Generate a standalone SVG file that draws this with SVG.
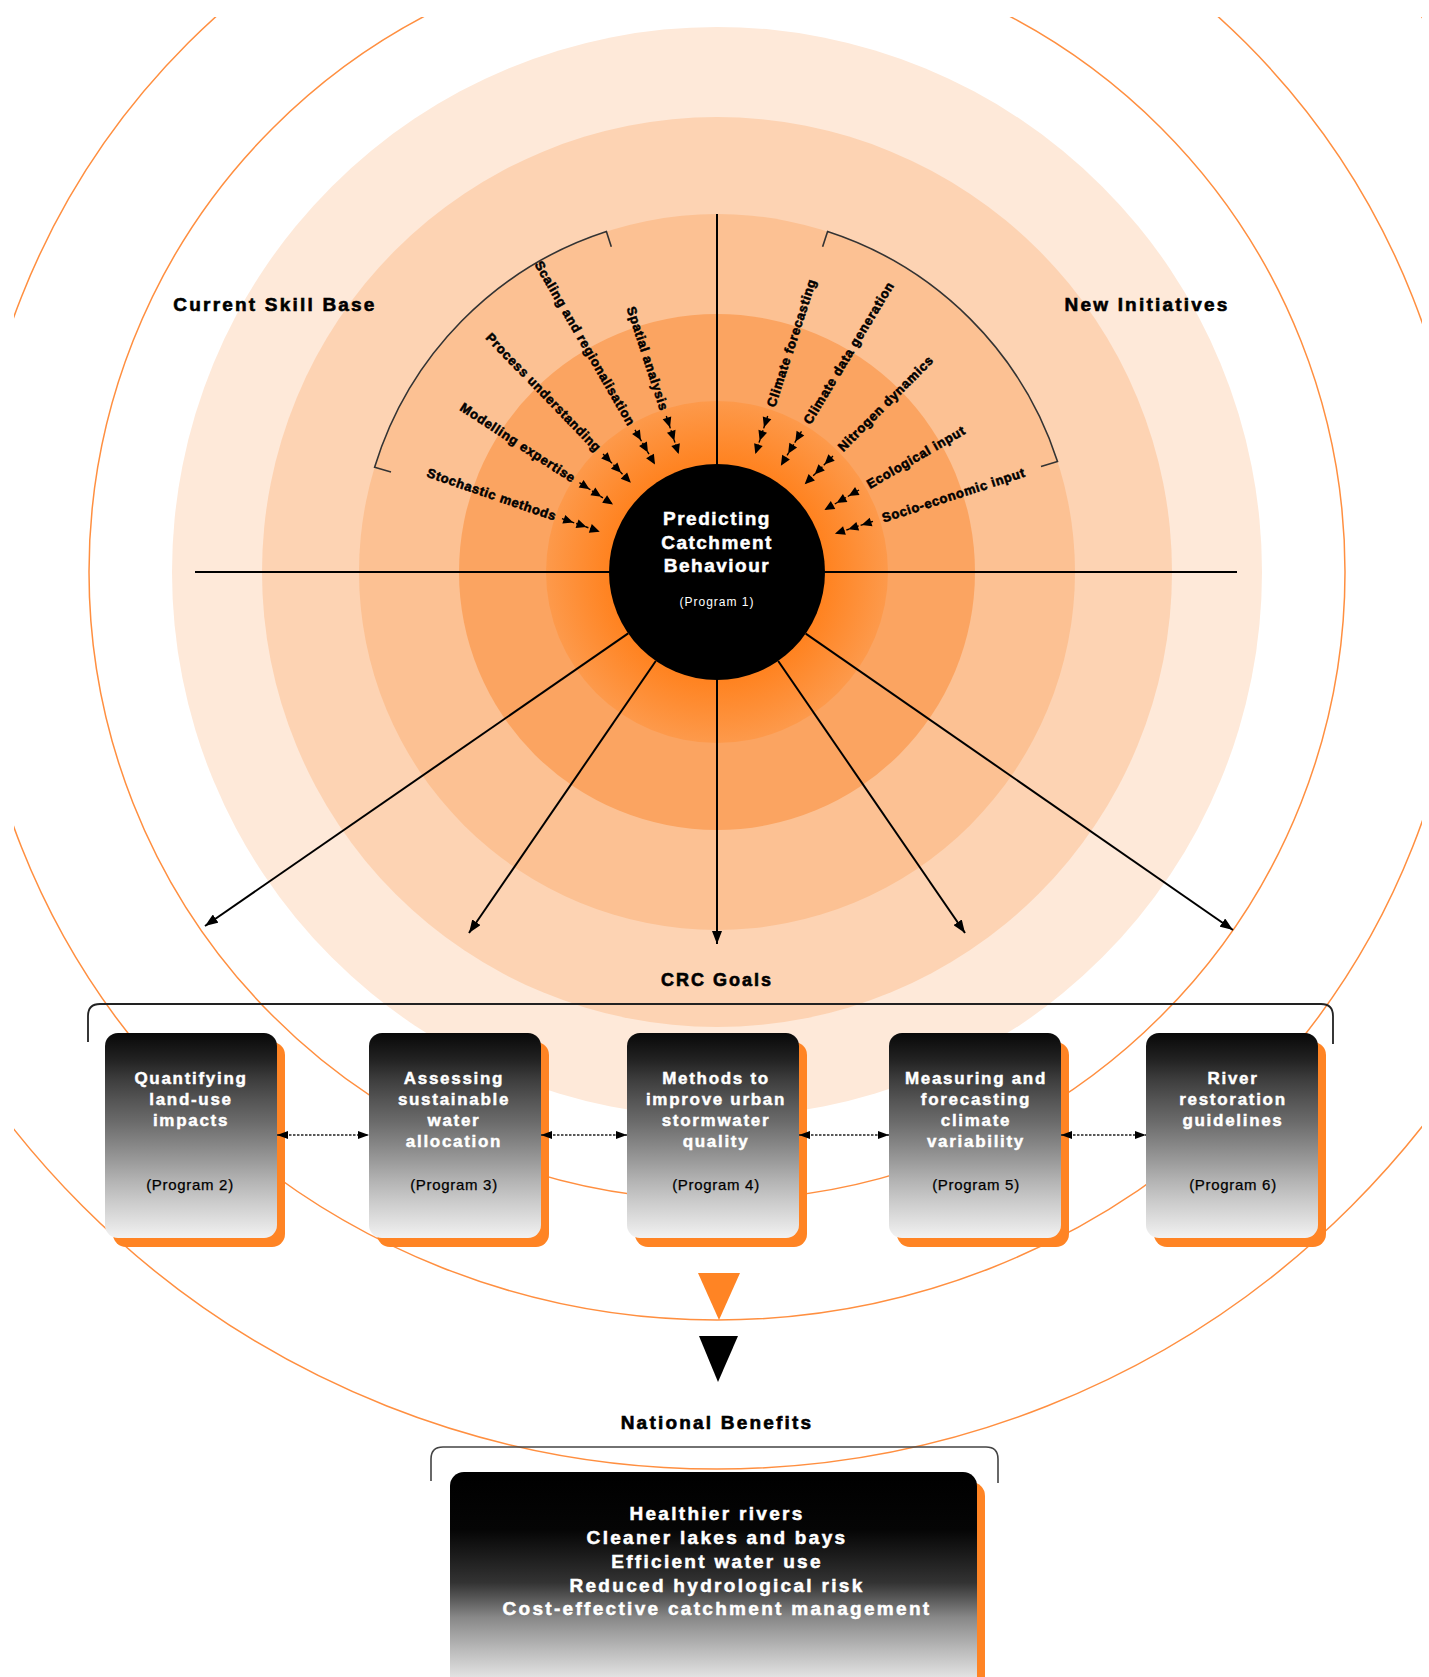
<svg xmlns="http://www.w3.org/2000/svg" width="1429" height="1677" viewBox="0 0 1429 1677">
  <style>
    text { font-family: "Liberation Sans", Arial, Helvetica, sans-serif; }
    .head { font-size: 19px; font-weight: bold; letter-spacing: 2.2px; fill: #000; stroke: #000; stroke-width: 0.6; text-anchor: middle; }
    .spoke-lbl { font-size: 13px; font-weight: bold; letter-spacing: 0.7px; fill: #000; stroke: #000; stroke-width: 0.55; }
    .core-t { font-size: 19px; font-weight: bold; letter-spacing: 1.5px; fill: #fff; stroke: #fff; stroke-width: 0.5; text-anchor: middle; }
    .core-p { font-size: 12px; letter-spacing: 1px; fill: #fff; text-anchor: middle; }
    .box-t { font-size: 17px; font-weight: bold; letter-spacing: 1.7px; fill: #fff; stroke: #fff; stroke-width: 0.45; text-anchor: middle; }
    .box-p { font-size: 15px; letter-spacing: 0.7px; fill: #000; stroke: #000; stroke-width: 0.25; text-anchor: middle; }
    .ben-t { font-size: 19px; font-weight: bold; letter-spacing: 2.3px; fill: #fff; stroke: #fff; stroke-width: 0.5; text-anchor: middle; }
    .orbit { fill: none; stroke: #ff8f40; stroke-width: 1.5; }
    .axis { stroke: #000; stroke-width: 2; }
    .bracket { fill: none; stroke: #222; stroke-width: 1.8; }
    .sector { fill: none; stroke: #333; stroke-width: 1.6; }
    .tri { fill: #000; }
    .spoke-line { stroke: #000; stroke-width: 1.4; stroke-dasharray: 3 2; }
    .out { stroke: #000; stroke-width: 2; fill: none; marker-end: url(#head); }
    .link { stroke: #222; stroke-width: 1.6; stroke-dasharray: 2.5 1.5; fill: none; marker-start: url(#small); marker-end: url(#small); }
    .card { fill: url(#cardFill); }
    .shadow { fill: #ff8424; }
  </style>
  <defs>
    <radialGradient id="coreRing" cx="717" cy="572" r="172" gradientUnits="userSpaceOnUse">
      <stop offset="0.62" stop-color="#ff821f"/>
      <stop offset="1" stop-color="#fd9a4c"/>
    </radialGradient>
    <linearGradient id="cardFill" x1="0" y1="0" x2="0" y2="1">
      <stop offset="0" stop-color="#080808"/>
      <stop offset="0.13" stop-color="#222"/>
      <stop offset="0.23" stop-color="#3e3e3e"/>
      <stop offset="0.33" stop-color="#555"/>
      <stop offset="0.43" stop-color="#6a6a6a"/>
      <stop offset="0.52" stop-color="#808080"/>
      <stop offset="0.62" stop-color="#999"/>
      <stop offset="0.72" stop-color="#b3b3b3"/>
      <stop offset="0.81" stop-color="#c8c8c8"/>
      <stop offset="0.91" stop-color="#dedede"/>
      <stop offset="1" stop-color="#f2f2f2"/>
    </linearGradient>
    <linearGradient id="benefitFill" x1="0" y1="1472" x2="0" y2="1677" gradientUnits="userSpaceOnUse">
      <stop offset="0" stop-color="#000"/>
      <stop offset="0.28" stop-color="#050505"/>
      <stop offset="0.54" stop-color="#333"/>
      <stop offset="0.61" stop-color="#555"/>
      <stop offset="0.71" stop-color="#888"/>
      <stop offset="0.87" stop-color="#bbb"/>
      <stop offset="1" stop-color="#e2e2e2"/>
    </linearGradient>
    <clipPath id="frame">
      <rect x="14" y="17" width="1408" height="1660"/>
    </clipPath>
    <marker id="head" markerUnits="userSpaceOnUse" markerWidth="14" markerHeight="10" refX="13" refY="5" orient="auto">
      <path d="M0 0 L13 5 L0 10 Z" fill="#000"/>
    </marker>
    <marker id="small" markerUnits="userSpaceOnUse" markerWidth="12" markerHeight="8" refX="11" refY="4" orient="auto-start-reverse">
      <path d="M0 0 L11 4 L0 8 Z" fill="#000"/>
    </marker>
  </defs>

  <rect width="1429" height="1677" fill="#fff"/>

  <!-- concentric bands around the core -->
  <g id="bands">
    <circle cx="717" cy="572" r="545" fill="#fee9d9"/>
    <circle cx="717" cy="572" r="455" fill="#fdd3b3"/>
    <circle cx="717" cy="572" r="358" fill="#fcc193"/>
    <circle cx="717" cy="572" r="258" fill="#fba461"/>
    <circle cx="717" cy="572" r="171" fill="url(#coreRing)"/>
  </g>

  <!-- outer orbit outlines -->
  <g id="orbits" clip-path="url(#frame)">
    <circle class="orbit" cx="717" cy="572" r="628"/>
    <circle class="orbit" cx="717" cy="572" r="748"/>
    <circle class="orbit" cx="717" cy="572" r="897"/>
  </g>

  <!-- cross axes -->
  <g id="axes">
    <line class="axis" x1="195" y1="572" x2="1237" y2="572"/>
    <line class="axis" x1="717" y1="214" x2="717" y2="572"/>
  </g>

  <!-- Current Skill Base sector -->
  <g id="skill-base">
    <path class="sector" d="M611.3 246.7 L606.4 231.5 A358 358 0 0 0 374.6 467.3 L391 472"/>
    <text class="head" x="275" y="311">Current Skill Base</text>
    <g transform="translate(717 572) rotate(-161)">
      <text class="spoke-lbl" transform="rotate(180)" x="-170" y="4.5" text-anchor="end">Stochastic methods</text>
      <line class="spoke-line" x1="126" y1="0" x2="164" y2="0"/>
      <path class="tri" d="M124 0 L134 -4.5 L134 4.5Z M138 0 L148 -4.5 L148 4.5Z M152 0 L162 -4.5 L162 4.5Z"/>
    </g>
    <g transform="translate(717 572) rotate(-147)">
      <text class="spoke-lbl" transform="rotate(180)" x="-170" y="4.5" text-anchor="end">Modelling expertise</text>
      <line class="spoke-line" x1="126" y1="0" x2="164" y2="0"/>
      <path class="tri" d="M124 0 L134 -4.5 L134 4.5Z M138 0 L148 -4.5 L148 4.5Z M152 0 L162 -4.5 L162 4.5Z"/>
    </g>
    <g transform="translate(717 572) rotate(-134)">
      <text class="spoke-lbl" transform="rotate(180)" x="-170" y="4.5" text-anchor="end">Process understanding</text>
      <line class="spoke-line" x1="126" y1="0" x2="164" y2="0"/>
      <path class="tri" d="M124 0 L134 -4.5 L134 4.5Z M138 0 L148 -4.5 L148 4.5Z M152 0 L162 -4.5 L162 4.5Z"/>
    </g>
    <g transform="translate(717 572) rotate(-120)">
      <text class="spoke-lbl" transform="rotate(180)" x="-170" y="4.5" text-anchor="end">Scaling and regionalisation</text>
      <line class="spoke-line" x1="126" y1="0" x2="164" y2="0"/>
      <path class="tri" d="M124 0 L134 -4.5 L134 4.5Z M138 0 L148 -4.5 L148 4.5Z M152 0 L162 -4.5 L162 4.5Z"/>
    </g>
    <g transform="translate(717 572) rotate(-108)">
      <text class="spoke-lbl" transform="rotate(180)" x="-170" y="4.5" text-anchor="end">Spatial analysis</text>
      <line class="spoke-line" x1="126" y1="0" x2="164" y2="0"/>
      <path class="tri" d="M124 0 L134 -4.5 L134 4.5Z M138 0 L148 -4.5 L148 4.5Z M152 0 L162 -4.5 L162 4.5Z"/>
    </g>
  </g>

  <!-- New Initiatives sector -->
  <g id="new-initiatives">
    <path class="sector" d="M822.6 246.7 L827.6 231.5 A358 358 0 0 1 1057.5 461.4 L1041 466.5"/>
    <text class="head" x="1147" y="311">New Initiatives</text>
    <g transform="translate(717 572) rotate(-72)">
      <text class="spoke-lbl" x="174" y="4.5">Climate forecasting</text>
      <line class="spoke-line" x1="126" y1="0" x2="166" y2="0"/>
      <path class="tri" d="M124 0 L134 -4.5 L134 4.5Z M138 0 L148 -4.5 L148 4.5Z M152 0 L162 -4.5 L162 4.5Z"/>
    </g>
    <g transform="translate(717 572) rotate(-59)">
      <text class="spoke-lbl" x="174" y="4.5">Climate data generation</text>
      <line class="spoke-line" x1="126" y1="0" x2="166" y2="0"/>
      <path class="tri" d="M124 0 L134 -4.5 L134 4.5Z M138 0 L148 -4.5 L148 4.5Z M152 0 L162 -4.5 L162 4.5Z"/>
    </g>
    <g transform="translate(717 572) rotate(-45)">
      <text class="spoke-lbl" x="174" y="4.5">Nitrogen dynamics</text>
      <line class="spoke-line" x1="126" y1="0" x2="166" y2="0"/>
      <path class="tri" d="M124 0 L134 -4.5 L134 4.5Z M138 0 L148 -4.5 L148 4.5Z M152 0 L162 -4.5 L162 4.5Z"/>
    </g>
    <g transform="translate(717 572) rotate(-30)">
      <text class="spoke-lbl" x="174" y="4.5">Ecological input</text>
      <line class="spoke-line" x1="126" y1="0" x2="166" y2="0"/>
      <path class="tri" d="M124 0 L134 -4.5 L134 4.5Z M138 0 L148 -4.5 L148 4.5Z M152 0 L162 -4.5 L162 4.5Z"/>
    </g>
    <g transform="translate(717 572) rotate(-18)">
      <text class="spoke-lbl" x="174" y="4.5">Socio-economic input</text>
      <line class="spoke-line" x1="126" y1="0" x2="166" y2="0"/>
      <path class="tri" d="M124 0 L134 -4.5 L134 4.5Z M138 0 L148 -4.5 L148 4.5Z M152 0 L162 -4.5 L162 4.5Z"/>
    </g>
  </g>

  <!-- connectors: core to goals -->
  <g id="connectors">
    <line class="out" x1="628.2" y1="633.4" x2="205" y2="926"/>
    <line class="out" x1="655.8" y1="661" x2="469" y2="933"/>
    <line class="out" x1="717" y1="680" x2="717" y2="944"/>
    <line class="out" x1="778.2" y1="661" x2="965" y2="933"/>
    <line class="out" x1="805.7" y1="633.6" x2="1233" y2="930"/>
  </g>

  <!-- Program 1 core -->
  <g id="program-1">
    <circle cx="717" cy="572" r="108" fill="#000"/>
    <text class="core-t" x="717" y="525">Predicting</text>
    <text class="core-t" x="717" y="549">Catchment</text>
    <text class="core-t" x="717" y="572">Behaviour</text>
    <text class="core-p" x="717" y="606">(Program 1)</text>
  </g>

  <!-- CRC Goals bracket -->
  <g id="crc-goals">
    <text class="head" x="717" y="986" style="font-size:18px;letter-spacing:2px">CRC Goals</text>
    <path class="bracket" d="M88 1042 V1016 Q88 1004 100 1004 H1321 Q1333 1004 1333 1016 V1044"/>
  </g>

  <g id="program-2">
    <rect class="shadow" x="113" y="1042" width="172" height="205" rx="13"/>
    <rect class="card" x="105" y="1033" width="172" height="205" rx="13"/>
    <text class="box-t" x="191" y="1084">Quantifying</text>
    <text class="box-t" x="191" y="1105">land-use</text>
    <text class="box-t" x="191" y="1126">impacts</text>
    <text class="box-p" x="190" y="1190">(Program 2)</text>
  </g>

  <g id="program-3">
    <rect class="shadow" x="377" y="1042" width="172" height="205" rx="13"/>
    <rect class="card" x="369" y="1033" width="172" height="205" rx="13"/>
    <text class="box-t" x="454" y="1084">Assessing</text>
    <text class="box-t" x="454" y="1105">sustainable</text>
    <text class="box-t" x="454" y="1126">water</text>
    <text class="box-t" x="454" y="1147">allocation</text>
    <text class="box-p" x="454" y="1190">(Program 3)</text>
  </g>

  <g id="program-4">
    <rect class="shadow" x="635" y="1042" width="172" height="205" rx="13"/>
    <rect class="card" x="627" y="1033" width="172" height="205" rx="13"/>
    <text class="box-t" x="716" y="1084">Methods to</text>
    <text class="box-t" x="716" y="1105">improve urban</text>
    <text class="box-t" x="716" y="1126">stormwater</text>
    <text class="box-t" x="716" y="1147">quality</text>
    <text class="box-p" x="716" y="1190">(Program 4)</text>
  </g>

  <g id="program-5">
    <rect class="shadow" x="897" y="1042" width="172" height="205" rx="13"/>
    <rect class="card" x="889" y="1033" width="172" height="205" rx="13"/>
    <text class="box-t" x="976" y="1084">Measuring and</text>
    <text class="box-t" x="976" y="1105">forecasting</text>
    <text class="box-t" x="976" y="1126">climate</text>
    <text class="box-t" x="976" y="1147">variability</text>
    <text class="box-p" x="976" y="1190">(Program 5)</text>
  </g>

  <g id="program-6">
    <rect class="shadow" x="1154" y="1042" width="172" height="205" rx="13"/>
    <rect class="card" x="1146" y="1033" width="172" height="205" rx="13"/>
    <text class="box-t" x="1233" y="1084">River</text>
    <text class="box-t" x="1233" y="1105">restoration</text>
    <text class="box-t" x="1233" y="1126">guidelines</text>
    <text class="box-p" x="1233" y="1190">(Program 6)</text>
  </g>

  <!-- two-way links between neighbouring goal cards -->
  <g id="goal-links">
    <line class="link" x1="277" y1="1135" x2="369" y2="1135"/>
    <line class="link" x1="541" y1="1135" x2="627" y2="1135"/>
    <line class="link" x1="799" y1="1135" x2="889" y2="1135"/>
    <line class="link" x1="1061" y1="1135" x2="1146" y2="1135"/>
  </g>

  <!-- flow markers down to the benefits -->
  <g id="flow">
    <path d="M698 1273 L740 1273 L719 1320 Z" fill="#ff8424"/>
    <path d="M699 1336 L738 1336 L718 1382 Z" fill="#000"/>
  </g>

  <g id="national-benefits">
    <text class="head" x="717" y="1429">National Benefits</text>
    <path class="bracket" style="stroke:#444;stroke-width:1.6" d="M431 1481 V1459 Q431 1447 443 1447 H986 Q998 1447 998 1459 V1483"/>
    <rect x="458" y="1482" width="527" height="240" rx="14" fill="#ff8424"/>
    <rect x="450" y="1472" width="527" height="250" rx="14" fill="url(#benefitFill)"/>
    <text class="ben-t" x="717" y="1520">Healthier rivers</text>
    <text class="ben-t" x="717" y="1544">Cleaner lakes and bays</text>
    <text class="ben-t" x="717" y="1568">Efficient water use</text>
    <text class="ben-t" x="717" y="1592">Reduced hydrological risk</text>
    <text class="ben-t" x="717" y="1615">Cost-effective catchment management</text>
  </g>
</svg>
